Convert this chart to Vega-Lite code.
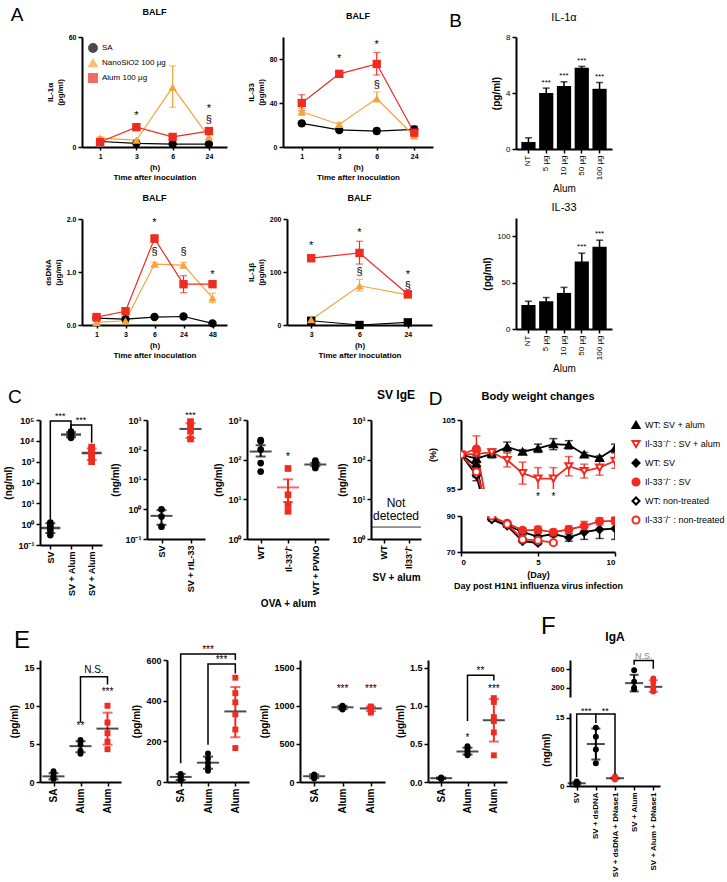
{
"$schema":"https://vega.github.io/schema/vega-lite/v6.json",
"padding":{"left":3,"top":5,"right":0,"bottom":0},
"config":{
 "font":"Liberation Sans",
 "view":{"stroke":null},
 "axis":{"domainColor":"black","domainWidth":2,"tickColor":"black","tickWidth":1.5,"tickSize":4,"labelColor":"black","labelFontWeight":"bold","titleColor":"black","titleFontWeight":"bold","grid":false,"labelFontSize":9,"titleFontSize":10,"labelPadding":2,"titlePadding":4},
 "title":{"fontSize":12,"fontWeight":"bold","color":"black","offset":4},
 "legend":{"labelColor":"black","titleColor":"black","labelFontSize":10},
 "text":{"color":"black"}
},
"datasets":{
 "a1":[{"t":1,"grp":"SA","m":3,"lo":2.3,"hi":3.7},{"t":3,"grp":"SA","m":2,"lo":1.5,"hi":2.5},{"t":6,"grp":"SA","m":1.6,"lo":1.1,"hi":2.1},{"t":24,"grp":"SA","m":1.6,"lo":1.1,"hi":2.1},
  {"t":1,"grp":"NanoSiO2 100 µg","m":4.8,"lo":4,"hi":5.6},{"t":3,"grp":"NanoSiO2 100 µg","m":3.7,"lo":3.2,"hi":4.2},{"t":6,"grp":"NanoSiO2 100 µg","m":32.7,"lo":21.7,"hi":44.2},{"t":24,"grp":"NanoSiO2 100 µg","m":5.5,"lo":4.2,"hi":6.8},
  {"t":1,"grp":"Alum 100 µg","m":2.7,"lo":1.8,"hi":3.6},{"t":3,"grp":"Alum 100 µg","m":10.8,"lo":10,"hi":11.6},{"t":6,"grp":"Alum 100 µg","m":5.5,"lo":4.8,"hi":6.2},{"t":24,"grp":"Alum 100 µg","m":8.7,"lo":7.8,"hi":9.6}],
 "a1t":[{"t":3,"y":17,"lab":"*"},{"t":24,"y":21,"lab":"*"},{"t":24,"y":14.5,"lab":"§"}],
 "a2":[{"t":1,"grp":"SA","m":21.5,"lo":19.5,"hi":23.5},{"t":3,"grp":"SA","m":15.5,"lo":13.5,"hi":17.5},{"t":6,"grp":"SA","m":14.5,"lo":12,"hi":17},{"t":24,"grp":"SA","m":16,"lo":13,"hi":19},
  {"t":1,"grp":"NanoSiO2 100 µg","m":32,"lo":29,"hi":35},{"t":3,"grp":"NanoSiO2 100 µg","m":20.5,"lo":19,"hi":22},{"t":6,"grp":"NanoSiO2 100 µg","m":44,"lo":41,"hi":50},{"t":24,"grp":"NanoSiO2 100 µg","m":10,"lo":8,"hi":12},
  {"t":1,"grp":"Alum 100 µg","m":40,"lo":33,"hi":47.5},{"t":3,"grp":"Alum 100 µg","m":66.5,"lo":64.5,"hi":68.5},{"t":6,"grp":"Alum 100 µg","m":75.5,"lo":65.5,"hi":86},{"t":24,"grp":"Alum 100 µg","m":13,"lo":11,"hi":15}],
 "a2t":[{"t":3,"y":80,"lab":"*"},{"t":6,"y":93,"lab":"*"},{"t":6,"y":56,"lab":"§"}],
 "a3":[{"t":1,"grp":"SA","m":0.13,"lo":0.11,"hi":0.15},{"t":3,"grp":"SA","m":0.11,"lo":0.09,"hi":0.13},{"t":6,"grp":"SA","m":0.15,"lo":0.13,"hi":0.17},{"t":24,"grp":"SA","m":0.16,"lo":0.14,"hi":0.18},{"t":48,"grp":"SA","m":0.03,"lo":0.01,"hi":0.05},
  {"t":1,"grp":"NanoSiO2 100 µg","m":0.05,"lo":0.03,"hi":0.07},{"t":3,"grp":"NanoSiO2 100 µg","m":0.08,"lo":0.06,"hi":0.1},{"t":6,"grp":"NanoSiO2 100 µg","m":1.15,"lo":1.12,"hi":1.18},{"t":24,"grp":"NanoSiO2 100 µg","m":1.13,"lo":1.08,"hi":1.18},{"t":48,"grp":"NanoSiO2 100 µg","m":0.51,"lo":0.42,"hi":0.6},
  {"t":1,"grp":"Alum 100 µg","m":0.15,"lo":0.13,"hi":0.17},{"t":3,"grp":"Alum 100 µg","m":0.26,"lo":0.23,"hi":0.29},{"t":6,"grp":"Alum 100 µg","m":1.63,"lo":1.56,"hi":1.7},{"t":24,"grp":"Alum 100 µg","m":0.77,"lo":0.61,"hi":0.93},{"t":48,"grp":"Alum 100 µg","m":0.77,"lo":0.74,"hi":0.8}],
 "a3t":[{"t":6,"y":1.92,"lab":"*"},{"t":6,"y":1.37,"lab":"§"},{"t":24,"y":1.37,"lab":"§"},{"t":48,"y":0.95,"lab":"*"}],
 "a4":[{"t":3,"grp":"SA","m":8,"lo":5,"hi":11},{"t":6,"grp":"SA","m":0,"lo":0,"hi":1},{"t":24,"grp":"SA","m":5,"lo":3,"hi":7},
  {"t":3,"grp":"NanoSiO2 100 µg","m":10,"lo":8,"hi":12},{"t":6,"grp":"NanoSiO2 100 µg","m":74,"lo":64,"hi":86},{"t":24,"grp":"NanoSiO2 100 µg","m":57,"lo":53,"hi":61},
  {"t":3,"grp":"Alum 100 µg","m":126,"lo":122,"hi":130},{"t":6,"grp":"Alum 100 µg","m":136,"lo":115,"hi":158},{"t":24,"grp":"Alum 100 µg","m":58,"lo":54,"hi":62}],
 "a4t":[{"t":3,"y":150,"lab":"*"},{"t":6,"y":173,"lab":"*"},{"t":6,"y":100,"lab":"§"},{"t":24,"y":74,"lab":"§"},{"t":24,"y":95,"lab":"*"}],
 "b1":[{"c":"NT","m":0.5,"lo":0.2,"hi":0.8},{"c":"5 µg","m":4.0,"lo":3.7,"hi":4.35},{"c":"10 µg","m":4.5,"lo":4.2,"hi":4.8},{"c":"50 µg","m":5.8,"lo":5.7,"hi":5.9},{"c":"100 µg","m":4.3,"lo":3.85,"hi":4.75}],
 "b1t":[{"c":"5 µg","y":4.45,"lab":"***"},{"c":"10 µg","y":4.9,"lab":"***"},{"c":"50 µg","y":6.0,"lab":"***"},{"c":"100 µg","y":4.85,"lab":"***"}],
 "b2":[{"c":"NT","m":26,"lo":22,"hi":30},{"c":"5 µg","m":30,"lo":27,"hi":34},{"c":"10 µg","m":39,"lo":33,"hi":45},{"c":"50 µg","m":73,"lo":64,"hi":82},{"c":"100 µg","m":89,"lo":82,"hi":96}],
 "b2t":[{"c":"50 µg","y":84,"lab":"***"},{"c":"100 µg","y":98,"lab":"***"}],
 "c1p":[{"g":"SV","v":1.2,"geno":"WT"},{"g":"SV","v":0.9,"geno":"WT"},{"g":"SV","v":0.7,"geno":"WT"},{"g":"SV","v":0.5,"geno":"WT"},{"g":"SV","v":0.3,"geno":"WT"},
  {"g":"SV + Alum","v":28000,"geno":"WT"},{"g":"SV + Alum","v":22000,"geno":"WT"},{"g":"SV + Alum","v":19000,"geno":"WT"},{"g":"SV + Alum","v":16000,"geno":"WT"},{"g":"SV + Alum","v":14000,"geno":"WT"},
  {"g":"SV + Alum\u200b","v":5000,"geno":"Il33⁻/⁻"},{"g":"SV + Alum\u200b","v":3600,"geno":"Il33⁻/⁻"},{"g":"SV + Alum\u200b","v":2500,"geno":"Il33⁻/⁻"},{"g":"SV + Alum\u200b","v":1600,"geno":"Il33⁻/⁻"},{"g":"SV + Alum\u200b","v":1000,"geno":"Il33⁻/⁻"}],
 "c1s":[{"g":"SV","m":0.65,"lo":0.38,"hi":1.1,"geno":"WT"},{"g":"SV + Alum","m":20000,"lo":15000,"hi":26000,"geno":"WT"},{"g":"SV + Alum\u200b","m":2600,"lo":1200,"hi":4300,"geno":"Il33⁻/⁻"}],
 "c1b":[{"bid":1,"o":1,"g":"SV","y":1.6},{"bid":1,"o":2,"g":"SV","y":90000},{"bid":1,"o":3,"g":"SV + Alum","y":90000},{"bid":1,"o":4,"g":"SV + Alum","y":35000},
  {"bid":2,"o":1,"g":"SV + Alum","y":35000},{"bid":2,"o":2,"g":"SV + Alum","y":57000},{"bid":2,"o":3,"g":"SV + Alum\u200b","y":57000},{"bid":2,"o":4,"g":"SV + Alum\u200b","y":8000}],
 "c1tb":[{"g":"SV","y":150000,"lab":"***"},{"g":"SV + Alum","y":100000,"lab":"***"}],
 "c2p":[{"g":"SV","v":1.0,"geno":"WT"},{"g":"SV","v":0.57,"geno":"WT"},{"g":"SV","v":0.26,"geno":"WT"},{"g":"SV + rIL-33","v":880,"geno":"Il33⁻/⁻"},{"g":"SV + rIL-33","v":600,"geno":"Il33⁻/⁻"},{"g":"SV + rIL-33","v":420,"geno":"Il33⁻/⁻"},{"g":"SV + rIL-33","v":230,"geno":"Il33⁻/⁻"}],
 "c2s":[{"g":"SV","m":0.6,"lo":0.3,"hi":0.93,"geno":"WT"},{"g":"SV + rIL-33","m":500,"lo":250,"hi":780,"geno":"Il33⁻/⁻"}],
 "c2t":[{"g":"SV + rIL-33","y":1500,"lab":"***"}],
 "c3p":[{"g":"WT","v":310,"geno":"WT"},{"g":"WT","v":290,"geno":"WT"},{"g":"WT","v":180,"geno":"WT"},{"g":"WT","v":82,"geno":"WT"},{"g":"WT","v":50,"geno":"WT"},
  {"g":"Il-33⁻/⁻","v":60,"geno":"Il33⁻/⁻"},{"g":"Il-33⁻/⁻","v":13,"geno":"Il33⁻/⁻"},{"g":"Il-33⁻/⁻","v":7.4,"geno":"Il33⁻/⁻"},{"g":"Il-33⁻/⁻","v":5,"geno":"Il33⁻/⁻"},
  {"g":"WT + PVNO","v":95,"geno":"WT"},{"g":"WT + PVNO","v":85,"geno":"WT"},{"g":"WT + PVNO","v":78,"geno":"WT"},{"g":"WT + PVNO","v":70,"geno":"WT"},{"g":"WT + PVNO","v":62,"geno":"WT"}],
 "c3s":[{"g":"WT","m":160,"lo":120,"hi":230,"geno":"WT"},{"g":"Il-33⁻/⁻","m":20,"lo":8.5,"hi":32,"geno":"Il33⁻/⁻"},{"g":"WT + PVNO","m":75,"lo":68,"hi":84,"geno":"WT"}],
 "c3t":[{"g":"Il-33⁻/⁻","y":120,"lab":"*"}],
 "c4x":[{"g":"WT","v":1},{"g":"Il33⁻/⁻","v":1}],
 "c4n":[{"v":8,"lab":"Not"},{"v":3.8,"lab":"detected"}],
 "c4r":[{"v":2}],
 "d":[
  {"grp":"WT: SV + alum","day":0,"m":100,"lo":99.8,"hi":100.2},{"grp":"WT: SV + alum","day":1,"m":99.4,"lo":98.8,"hi":100},{"grp":"WT: SV + alum","day":2,"m":100.1,"lo":99.5,"hi":100.7},{"grp":"WT: SV + alum","day":3,"m":101.1,"lo":100.4,"hi":101.8},{"grp":"WT: SV + alum","day":4,"m":100.4,"lo":100.1,"hi":100.7},{"grp":"WT: SV + alum","day":5,"m":100.9,"lo":100.3,"hi":101.5},{"grp":"WT: SV + alum","day":6,"m":101.5,"lo":100.7,"hi":102.3},{"grp":"WT: SV + alum","day":7,"m":101.4,"lo":100.8,"hi":102},{"grp":"WT: SV + alum","day":8,"m":100,"lo":99.7,"hi":100.3},{"grp":"WT: SV + alum","day":9,"m":99.5,"lo":99.2,"hi":99.8},{"grp":"WT: SV + alum","day":10,"m":100.9,"lo":100.3,"hi":101.5},
  {"grp":"Il-33⁻/⁻ : SV + alum","day":0,"m":100,"lo":99.7,"hi":100.3},{"grp":"Il-33⁻/⁻ : SV + alum","day":1,"m":100.1,"lo":99.6,"hi":100.6},{"grp":"Il-33⁻/⁻ : SV + alum","day":2,"m":100.3,"lo":99.8,"hi":100.8},{"grp":"Il-33⁻/⁻ : SV + alum","day":3,"m":99.2,"lo":98.2,"hi":100.2},{"grp":"Il-33⁻/⁻ : SV + alum","day":4,"m":97.3,"lo":95.7,"hi":98.9},{"grp":"Il-33⁻/⁻ : SV + alum","day":5,"m":96.5,"lo":94.9,"hi":98.1},{"grp":"Il-33⁻/⁻ : SV + alum","day":6,"m":96.5,"lo":94.9,"hi":98.1},{"grp":"Il-33⁻/⁻ : SV + alum","day":7,"m":98.3,"lo":96.9,"hi":99.7},{"grp":"Il-33⁻/⁻ : SV + alum","day":8,"m":97.6,"lo":96.6,"hi":98.6},{"grp":"Il-33⁻/⁻ : SV + alum","day":9,"m":98.1,"lo":97,"hi":99.2},{"grp":"Il-33⁻/⁻ : SV + alum","day":10,"m":99.1,"lo":98,"hi":100.2},
  {"grp":"WT: SV","day":0,"m":100,"lo":99.8,"hi":100.2},{"grp":"WT: SV","day":1,"m":98.3,"lo":96.8,"hi":99.8},{"grp":"WT: SV","day":2,"m":88.5,"lo":87.5,"hi":89.5},{"grp":"WT: SV","day":3,"m":85,"lo":84,"hi":86},{"grp":"WT: SV","day":4,"m":81,"lo":79.5,"hi":82.5},{"grp":"WT: SV","day":5,"m":78.5,"lo":76.5,"hi":80.5},{"grp":"WT: SV","day":6,"m":80,"lo":78.5,"hi":81.5},{"grp":"WT: SV","day":7,"m":78,"lo":76,"hi":80},{"grp":"WT: SV","day":8,"m":81,"lo":77,"hi":85},{"grp":"WT: SV","day":9,"m":82.5,"lo":77.5,"hi":87.5},{"grp":"WT: SV","day":10,"m":83,"lo":77,"hi":89},
  {"grp":"Il-33⁻/⁻ : SV","day":0,"m":100,"lo":99.7,"hi":100.3},{"grp":"Il-33⁻/⁻ : SV","day":1,"m":100.8,"lo":98.9,"hi":102.7},{"grp":"Il-33⁻/⁻ : SV","day":2,"m":89,"lo":88,"hi":90},{"grp":"Il-33⁻/⁻ : SV","day":3,"m":86,"lo":85,"hi":87},{"grp":"Il-33⁻/⁻ : SV","day":4,"m":82,"lo":80.5,"hi":83.5},{"grp":"Il-33⁻/⁻ : SV","day":5,"m":82.3,"lo":80.3,"hi":84.3},{"grp":"Il-33⁻/⁻ : SV","day":6,"m":81,"lo":79.5,"hi":82.5},{"grp":"Il-33⁻/⁻ : SV","day":7,"m":82.5,"lo":80.5,"hi":84.5},{"grp":"Il-33⁻/⁻ : SV","day":8,"m":84.5,"lo":82,"hi":87},{"grp":"Il-33⁻/⁻ : SV","day":9,"m":87,"lo":85,"hi":89},{"grp":"Il-33⁻/⁻ : SV","day":10,"m":87.3,"lo":85.3,"hi":89.3},
  {"grp":"WT: non-treated","day":0,"m":100,"lo":99.8,"hi":100.2},{"grp":"WT: non-treated","day":1,"m":97,"lo":96.2,"hi":97.8},{"grp":"WT: non-treated","day":2,"m":88,"lo":87.2,"hi":88.8},{"grp":"WT: non-treated","day":3,"m":84.5,"lo":83.7,"hi":85.3},{"grp":"WT: non-treated","day":4,"m":76,"lo":75.2,"hi":76.8},{"grp":"WT: non-treated","day":5,"m":75,"lo":74.2,"hi":75.8},
  {"grp":"Il-33⁻/⁻ : non-treated","day":0,"m":100,"lo":99.8,"hi":100.2},{"grp":"Il-33⁻/⁻ : non-treated","day":1,"m":97.5,"lo":96.7,"hi":98.3},{"grp":"Il-33⁻/⁻ : non-treated","day":2,"m":90,"lo":89.2,"hi":90.8},{"grp":"Il-33⁻/⁻ : non-treated","day":3,"m":85.5,"lo":84.7,"hi":86.3},{"grp":"Il-33⁻/⁻ : non-treated","day":4,"m":77,"lo":76.2,"hi":77.8},{"grp":"Il-33⁻/⁻ : non-treated","day":5,"m":76.5,"lo":75.7,"hi":77.3},{"grp":"Il-33⁻/⁻ : non-treated","day":6,"m":75.2,"lo":74.4,"hi":76}],
 "dt":[{"day":5,"y":94.6,"lab":"*"},{"day":6,"y":94.6,"lab":"*"}],
 "e1p":[{"g":"SA","v":1.4,"geno":"WT"},{"g":"SA","v":1.2,"geno":"WT"},{"g":"SA","v":0.8,"geno":"WT"},{"g":"SA","v":0.6,"geno":"WT"},{"g":"SA","v":0.4,"geno":"WT"},
  {"g":"Alum","v":5.5,"geno":"WT"},{"g":"Alum","v":5.3,"geno":"WT"},{"g":"Alum","v":4.9,"geno":"WT"},{"g":"Alum","v":4.1,"geno":"WT"},{"g":"Alum","v":3.7,"geno":"WT"},
  {"g":"Alum\u200b","v":10,"geno":"Il33⁻/⁻"},{"g":"Alum\u200b","v":7.8,"geno":"Il33⁻/⁻"},{"g":"Alum\u200b","v":6.4,"geno":"Il33⁻/⁻"},{"g":"Alum\u200b","v":5.3,"geno":"Il33⁻/⁻"},{"g":"Alum\u200b","v":4.3,"geno":"Il33⁻/⁻"}],
 "e1s":[{"g":"SA","m":0.74,"lo":0.35,"hi":1.15,"geno":"WT"},{"g":"Alum","m":4.7,"lo":3.9,"hi":5.35,"geno":"WT"},{"g":"Alum\u200b","m":7.0,"lo":4.9,"hi":9.1,"geno":"Il33⁻/⁻"}],
 "e1b":[{"bid":1,"o":1,"g":"Alum","y":7.8},{"bid":1,"o":2,"g":"Alum","y":13.8},{"bid":1,"o":3,"g":"Alum\u200b","y":13.8},{"bid":1,"o":4,"g":"Alum\u200b","y":12.8}],
 "e1t":[{"g":"Alum","y":7.3,"lab":"**"},{"g":"Alum\u200b","y":11.8,"lab":"***"}],
 "e1tb":[{"g":"Alum","y":14.7,"lab":"N.S."}],
 "e2p":[{"g":"SA","v":40,"geno":"WT"},{"g":"SA","v":32,"geno":"WT"},{"g":"SA","v":25,"geno":"WT"},{"g":"SA","v":15,"geno":"WT"},{"g":"SA","v":8,"geno":"WT"},
  {"g":"Alum","v":140,"geno":"WT"},{"g":"Alum","v":115,"geno":"WT"},{"g":"Alum","v":95,"geno":"WT"},{"g":"Alum","v":75,"geno":"WT"},{"g":"Alum","v":55,"geno":"WT"},
  {"g":"Alum\u200b","v":513,"geno":"Il33⁻/⁻"},{"g":"Alum\u200b","v":437,"geno":"Il33⁻/⁻"},{"g":"Alum\u200b","v":392,"geno":"Il33⁻/⁻"},{"g":"Alum\u200b","v":333,"geno":"Il33⁻/⁻"},{"g":"Alum\u200b","v":258,"geno":"Il33⁻/⁻"},{"g":"Alum\u200b","v":167,"geno":"Il33⁻/⁻"}],
 "e2s":[{"g":"SA","m":25,"lo":10,"hi":40,"geno":"WT"},{"g":"Alum","m":95,"lo":65,"hi":125,"geno":"WT"},{"g":"Alum\u200b","m":347,"lo":220,"hi":467,"geno":"Il33⁻/⁻"}],
 "e2b":[{"bid":1,"o":1,"g":"SA","y":92},{"bid":1,"o":2,"g":"SA","y":630},{"bid":1,"o":3,"g":"Alum\u200b","y":630},{"bid":1,"o":4,"g":"Alum\u200b","y":600},
  {"bid":2,"o":1,"g":"Alum","y":183},{"bid":2,"o":2,"g":"Alum","y":580},{"bid":2,"o":3,"g":"Alum\u200b","y":580},{"bid":2,"o":4,"g":"Alum\u200b","y":533}],
 "e2t":[{"g":"Alum","y":650,"lab":"***"}],
 "e2tb":[{"g":"Alum","y":600,"lab":"***"}],
 "e3p":[{"g":"SA","v":100,"geno":"WT"},{"g":"SA","v":80,"geno":"WT"},{"g":"SA","v":60,"geno":"WT"},{"g":"SA","v":45,"geno":"WT"},
  {"g":"Alum","v":1000,"geno":"WT"},{"g":"Alum","v":990,"geno":"WT"},{"g":"Alum","v":985,"geno":"WT"},{"g":"Alum","v":975,"geno":"WT"},{"g":"Alum","v":960,"geno":"WT"},{"g":"Alum","v":950,"geno":"WT"},
  {"g":"Alum\u200b","v":990,"geno":"Il33⁻/⁻"},{"g":"Alum\u200b","v":985,"geno":"Il33⁻/⁻"},{"g":"Alum\u200b","v":975,"geno":"Il33⁻/⁻"},{"g":"Alum\u200b","v":960,"geno":"Il33⁻/⁻"},{"g":"Alum\u200b","v":930,"geno":"Il33⁻/⁻"},{"g":"Alum\u200b","v":910,"geno":"Il33⁻/⁻"}],
 "e3s":[{"g":"SA","m":75,"lo":50,"hi":100,"geno":"WT"},{"g":"Alum","m":980,"lo":955,"hi":1000,"geno":"WT"},{"g":"Alum\u200b","m":965,"lo":930,"hi":990,"geno":"Il33⁻/⁻"}],
 "e3t":[{"g":"Alum","y":1220,"lab":"***"},{"g":"Alum\u200b","y":1220,"lab":"***"}],
 "e4p":[{"g":"SA","v":0.06,"geno":"WT"},{"g":"SA","v":0.05,"geno":"WT"},{"g":"SA","v":0.04,"geno":"WT"},
  {"g":"Alum","v":0.47,"geno":"WT"},{"g":"Alum","v":0.44,"geno":"WT"},{"g":"Alum","v":0.41,"geno":"WT"},{"g":"Alum","v":0.38,"geno":"WT"},{"g":"Alum","v":0.36,"geno":"WT"},{"g":"Alum","v":0.35,"geno":"WT"},
  {"g":"Alum\u200b","v":1.1,"geno":"Il33⁻/⁻"},{"g":"Alum\u200b","v":1.05,"geno":"Il33⁻/⁻"},{"g":"Alum\u200b","v":0.85,"geno":"Il33⁻/⁻"},{"g":"Alum\u200b","v":0.8,"geno":"Il33⁻/⁻"},{"g":"Alum\u200b","v":0.65,"geno":"Il33⁻/⁻"},{"g":"Alum\u200b","v":0.35,"geno":"Il33⁻/⁻"}],
 "e4s":[{"g":"SA","m":0.05,"lo":0.04,"hi":0.06,"geno":"WT"},{"g":"Alum","m":0.4,"lo":0.36,"hi":0.45,"geno":"WT"},{"g":"Alum\u200b","m":0.81,"lo":0.53,"hi":1.09,"geno":"Il33⁻/⁻"}],
 "e4b":[{"bid":1,"o":1,"g":"Alum","y":0.8},{"bid":1,"o":2,"g":"Alum","y":1.4},{"bid":1,"o":3,"g":"Alum\u200b","y":1.4},{"bid":1,"o":4,"g":"Alum\u200b","y":1.33}],
 "e4t":[{"g":"Alum","y":0.58,"lab":"*"},{"g":"Alum\u200b","y":1.22,"lab":"***"}],
 "e4tb":[{"g":"Alum","y":1.46,"lab":"**"}],
 "fpl":[{"g":"SV","v":1.0,"geno":"WT"},{"g":"SV","v":0.7,"geno":"WT"},{"g":"SV","v":0.5,"geno":"WT"},{"g":"SV","v":0.3,"geno":"WT"},
  {"g":"SV + dsDNA","v":12.8,"geno":"WT"},{"g":"SV + dsDNA","v":10.8,"geno":"WT"},{"g":"SV + dsDNA","v":8,"geno":"WT"},{"g":"SV + dsDNA","v":5,"geno":"WT"},
  {"g":"SV + dsDNA + DNase1","v":2.1,"geno":"Il33⁻/⁻"},{"g":"SV + dsDNA + DNase1","v":1.8,"geno":"Il33⁻/⁻"},{"g":"SV + dsDNA + DNase1","v":1.6,"geno":"Il33⁻/⁻"},{"g":"SV + dsDNA + DNase1","v":1.4,"geno":"Il33⁻/⁻"}],
 "fsl":[{"g":"SV","m":0.6,"lo":0.35,"hi":0.9,"geno":"WT"},{"g":"SV + dsDNA","m":9.2,"lo":5.8,"hi":12.6,"geno":"WT"},{"g":"SV + dsDNA + DNase1","m":1.7,"lo":1.5,"hi":1.9,"geno":"Il33⁻/⁻"}],
 "flb":[{"bid":1,"o":1,"g":"SV","y":2.0},{"bid":1,"o":2,"g":"SV","y":15.8},{"bid":1,"o":3,"g":"SV + dsDNA","y":15.8},{"bid":1,"o":4,"g":"SV + dsDNA","y":13.8},
  {"bid":2,"o":1,"g":"SV + dsDNA","y":15.8},{"bid":2,"o":2,"g":"SV + dsDNA + DNase1","y":15.8},{"bid":2,"o":3,"g":"SV + dsDNA + DNase1","y":2.6}],
 "fltb":[{"g":"SV","y":16.4,"lab":"***"},{"g":"SV + dsDNA","y":16.4,"lab":"**"}],
 "fpu":[{"g":"SV + Alum","v":580,"geno":"WT"},{"g":"SV + Alum","v":330,"geno":"WT"},{"g":"SV + Alum","v":200,"geno":"WT"},{"g":"SV + Alum","v":170,"geno":"WT"},
  {"g":"SV + Alum + DNase1","v":400,"geno":"Il33⁻/⁻"},{"g":"SV + Alum + DNase1","v":310,"geno":"Il33⁻/⁻"},{"g":"SV + Alum + DNase1","v":210,"geno":"Il33⁻/⁻"},{"g":"SV + Alum + DNase1","v":150,"geno":"Il33⁻/⁻"},{"g":"SV + Alum + DNase1","v":120,"geno":"Il33⁻/⁻"}],
 "fsu":[{"g":"SV + Alum","m":300,"lo":120,"hi":480,"geno":"WT"},{"g":"SV + Alum + DNase1","m":220,"lo":110,"hi":360,"geno":"Il33⁻/⁻"}],
 "fub":[{"bid":1,"o":1,"g":"SV + Alum","y":700},{"bid":1,"o":2,"g":"SV + Alum","y":790},{"bid":1,"o":3,"g":"SV + Alum + DNase1","y":790},{"bid":1,"o":4,"g":"SV + Alum + DNase1","y":610}],
 "futb":[{"g":"SV + Alum","y":880,"lab":"N.S."}]
},
"spacing":6,
"resolve":{"scale":{"color":"independent","shape":"independent","fill":"independent","stroke":"independent"},"legend":{"color":"independent","shape":"independent","fill":"independent","stroke":"independent"}},
"vconcat":[
{"spacing":14,
 "resolve":{"scale":{"color":"independent","shape":"independent","fill":"independent","stroke":"independent"},"legend":{"color":"independent","shape":"independent","fill":"independent","stroke":"independent"}},
 "vconcat":[
 {"hconcat":[
  {"title":{"text":"A","anchor":"start","fontSize":19,"fontWeight":"normal","offset":10,"dx":-27},"width":1,"height":1,"data":{"name":"c4r"},"mark":{"type":"point","opacity":0}},
  {"hconcat":[
  {"spacing":13,
   "resolve":{"scale":{"color":"independent","shape":"independent","fill":"independent"},"legend":{"color":"independent","shape":"independent","fill":"independent"}},
   "vconcat":[
    {"hconcat":[
      {"title":{"text":"BALF","fontSize":9,"offset":16},"width":145,"height":110,
       "encoding":{"x":{"field":"t","type":"ordinal","scale":{"type":"point","padding":0.5},"axis":{"labelAngle":0,"title":["(h)","Time after inoculation"],"labelFontSize":7,"titleFontSize":8,"tickSize":3}}},
       "layer":[
        {"data":{"name":"a1"},"mark":{"type":"errorbar","ticks":{"size":7},"thickness":1.2},"encoding":{"y":{"field":"lo","type":"quantitative","scale":{"domain":[0,60]},"axis":{"values":[0,20,40,60],"title":["IL-1α","(pg/ml)"],"labelFontSize":7,"titleFontSize":8}},"y2":{"field":"hi"},"color":{"field":"grp","type":"nominal","scale":{"domain":["SA","NanoSiO2 100 µg","Alum 100 µg"],"range":["black","#f6a33c","#ef2b22"]},"legend":{"orient":"top-left","title":null,"labelFontSize":8,"symbolSize":70,"rowPadding":0,"offset":6}}}},
        {"data":{"name":"a1"},"mark":{"type":"line","strokeWidth":1.2},"encoding":{"y":{"field":"m","type":"quantitative"},"color":{"field":"grp","type":"nominal"}}},
        {"data":{"name":"a1"},"mark":{"type":"point","filled":true,"size":70,"opacity":1},"encoding":{"y":{"field":"m","type":"quantitative"},"color":{"field":"grp","type":"nominal"},"shape":{"field":"grp","type":"nominal","scale":{"domain":["SA","NanoSiO2 100 µg","Alum 100 µg"],"range":["circle","triangle-up","square"]}}}},
        {"data":{"name":"a1t"},"mark":{"type":"text","fontSize":11,"color":"black"},"encoding":{"y":{"field":"y","type":"quantitative"},"text":{"field":"lab"}}}
       ]},
      {"title":{"text":"BALF","fontSize":9,"offset":16},"width":150,"height":110,
       "encoding":{"x":{"field":"t","type":"ordinal","scale":{"type":"point","padding":0.5},"axis":{"labelAngle":0,"title":["(h)","Time after inoculation"],"labelFontSize":7,"titleFontSize":8,"tickSize":3}}},
       "layer":[
        {"data":{"name":"a2"},"mark":{"type":"errorbar","ticks":{"size":7},"thickness":1.2},"encoding":{"y":{"field":"lo","type":"quantitative","scale":{"domain":[0,100]},"axis":{"values":[0,20,40,60,80,100],"title":["IL-33","(pg/ml)"],"labelFontSize":7,"titleFontSize":8}},"y2":{"field":"hi"},"color":{"field":"grp","type":"nominal","scale":{"domain":["SA","NanoSiO2 100 µg","Alum 100 µg"],"range":["black","#f6a33c","#ef2b22"]},"legend":null}}},
        {"data":{"name":"a2"},"mark":{"type":"line","strokeWidth":1.2},"encoding":{"y":{"field":"m","type":"quantitative"},"color":{"field":"grp","type":"nominal","legend":null}}},
        {"data":{"name":"a2"},"mark":{"type":"point","filled":true,"size":70,"opacity":1},"encoding":{"y":{"field":"m","type":"quantitative"},"color":{"field":"grp","type":"nominal","legend":null},"shape":{"field":"grp","type":"nominal","legend":null,"scale":{"domain":["SA","NanoSiO2 100 µg","Alum 100 µg"],"range":["circle","triangle-up","square"]}}}},
        {"data":{"name":"a2t"},"mark":{"type":"text","fontSize":11,"color":"black"},"encoding":{"y":{"field":"y","type":"quantitative"},"text":{"field":"lab"}}}
       ]}
     ],"spacing":20,
     "resolve":{"scale":{"color":"independent","shape":"independent","fill":"independent"},"legend":{"color":"independent","shape":"independent","fill":"independent"}}},
    {"hconcat":[
      {"title":{"text":"BALF","fontSize":9,"offset":12},"width":145,"height":106,
       "encoding":{"x":{"field":"t","type":"ordinal","scale":{"type":"point","padding":0.5},"axis":{"labelAngle":0,"title":["(h)","Time after inoculation"],"labelFontSize":7,"titleFontSize":8,"tickSize":3}}},
       "layer":[
        {"data":{"name":"a3"},"mark":{"type":"errorbar","ticks":{"size":7},"thickness":1.2},"encoding":{"y":{"field":"lo","type":"quantitative","scale":{"domain":[0,2]},"axis":{"values":[0,0.5,1,1.5,2],"format":".1f","title":["dsDNA","(µg/ml)"],"labelFontSize":7,"titleFontSize":8}},"y2":{"field":"hi"},"color":{"field":"grp","type":"nominal","scale":{"domain":["SA","NanoSiO2 100 µg","Alum 100 µg"],"range":["black","#f6a33c","#ef2b22"]},"legend":null}}},
        {"data":{"name":"a3"},"mark":{"type":"line","strokeWidth":1.2},"encoding":{"y":{"field":"m","type":"quantitative"},"color":{"field":"grp","type":"nominal","legend":null}}},
        {"data":{"name":"a3"},"mark":{"type":"point","filled":true,"size":70,"opacity":1},"encoding":{"y":{"field":"m","type":"quantitative"},"color":{"field":"grp","type":"nominal","legend":null},"shape":{"field":"grp","type":"nominal","legend":null,"scale":{"domain":["SA","NanoSiO2 100 µg","Alum 100 µg"],"range":["circle","triangle-up","square"]}}}},
        {"data":{"name":"a3t"},"mark":{"type":"text","fontSize":11,"color":"black"},"encoding":{"y":{"field":"y","type":"quantitative"},"text":{"field":"lab"}}}
       ]},
      {"title":{"text":"BALF","fontSize":9,"offset":12},"width":145,"height":106,
       "encoding":{"x":{"field":"t","type":"ordinal","scale":{"type":"point","padding":0.5},"axis":{"labelAngle":0,"title":["(h)","Time after inoculation"],"labelFontSize":7,"titleFontSize":8,"tickSize":3}}},
       "layer":[
        {"data":{"name":"a4"},"mark":{"type":"errorbar","ticks":{"size":7},"thickness":1.2},"encoding":{"y":{"field":"lo","type":"quantitative","scale":{"domain":[0,200]},"axis":{"values":[0,50,100,150,200],"title":["IL-1β","(pg/ml)"],"labelFontSize":7,"titleFontSize":8}},"y2":{"field":"hi"},"color":{"field":"grp","type":"nominal","scale":{"domain":["SA","NanoSiO2 100 µg","Alum 100 µg"],"range":["black","#f6a33c","#ef2b22"]},"legend":null}}},
        {"data":{"name":"a4"},"mark":{"type":"line","strokeWidth":1.2},"encoding":{"y":{"field":"m","type":"quantitative"},"color":{"field":"grp","type":"nominal","legend":null}}},
        {"data":{"name":"a4"},"mark":{"type":"point","filled":true,"size":70,"opacity":1},"encoding":{"y":{"field":"m","type":"quantitative"},"color":{"field":"grp","type":"nominal","legend":null},"shape":{"field":"grp","type":"nominal","legend":null,"scale":{"domain":["SA","NanoSiO2 100 µg","Alum 100 µg"],"range":["square","triangle-up","square"]}}}},
        {"data":{"name":"a4t"},"mark":{"type":"text","fontSize":11,"color":"black"},"encoding":{"y":{"field":"y","type":"quantitative"},"text":{"field":"lab"}}}
       ]}
     ],"spacing":20,
     "resolve":{"scale":{"color":"independent","shape":"independent","fill":"independent"},"legend":{"color":"independent","shape":"independent","fill":"independent"}}}
   ]},
  {"title":{"text":"B","orient":"left","anchor":"end","angle":0,"align":"right","baseline":"top","fontSize":19,"fontWeight":"normal","offset":8},
   "spacing":8,
   "vconcat":[
    {"title":{"text":"IL-1α","fontSize":11,"fontWeight":"normal","offset":10},"width":96,"height":112,
     "encoding":{"x":{"field":"c","type":"nominal","sort":null,"scale":{"domain":["NT","5 µg","10 µg","50 µg","100 µg"],"paddingInner":0.2,"paddingOuter":0.3},"axis":{"labelAngle":-90,"title":"Alum","titleFontWeight":"normal","titleFontSize":10,"labelFontSize":8,"labelFontWeight":"normal"}}},
     "layer":[
      {"data":{"name":"b1"},"mark":{"type":"bar","color":"black"},"encoding":{"y":{"field":"m","type":"quantitative","scale":{"domain":[0,8]},"axis":{"values":[0,2,4,6,8],"title":"(pg/ml)","labelFontSize":8,"labelFontWeight":"normal"}}}},
      {"data":{"name":"b1"},"mark":{"type":"errorbar","color":"black","ticks":{"size":7},"thickness":1.5},"encoding":{"y":{"field":"lo","type":"quantitative","title":"(pg/ml)"},"y2":{"field":"hi"}}},
      {"data":{"name":"b1t"},"mark":{"type":"text","fontSize":8,"baseline":"bottom","color":"black"},"encoding":{"y":{"field":"y","type":"quantitative","title":"(pg/ml)"},"text":{"field":"lab"}}}
     ]},
    {"title":{"text":"IL-33","fontSize":11,"fontWeight":"normal","offset":5},"width":96,"height":111,
     "encoding":{"x":{"field":"c","type":"nominal","sort":null,"scale":{"domain":["NT","5 µg","10 µg","50 µg","100 µg"],"paddingInner":0.2,"paddingOuter":0.3},"axis":{"labelAngle":-90,"title":"Alum","titleFontWeight":"normal","titleFontSize":10,"labelFontSize":8,"labelFontWeight":"normal"}}},
     "layer":[
      {"data":{"name":"b2"},"mark":{"type":"bar","color":"black"},"encoding":{"y":{"field":"m","type":"quantitative","scale":{"domain":[0,120]},"axis":{"values":[0,50,100],"title":"(pg/ml)","labelFontSize":8,"labelFontWeight":"normal"}}}},
      {"data":{"name":"b2"},"mark":{"type":"errorbar","color":"black","ticks":{"size":7},"thickness":1.5},"encoding":{"y":{"field":"lo","type":"quantitative","title":"(pg/ml)"},"y2":{"field":"hi"}}},
      {"data":{"name":"b2t"},"mark":{"type":"text","fontSize":8,"baseline":"bottom","color":"black"},"encoding":{"y":{"field":"y","type":"quantitative","title":"(pg/ml)"},"text":{"field":"lab"}}}
     ]}
   ]}
  ],"spacing":16,
  "resolve":{"scale":{"color":"independent","shape":"independent","fill":"independent"},"legend":{"color":"independent","shape":"independent","fill":"independent"}}}
 ],"spacing":0,
 "resolve":{"scale":{"color":"independent","shape":"independent","fill":"independent"},"legend":{"color":"independent","shape":"independent","fill":"independent"}}},
 {"hconcat":[
  {"title":{"text":"C","anchor":"start","fontSize":19,"fontWeight":"normal","offset":-18,"dx":4},
   "spacing":8,
   "resolve":{"scale":{"color":"independent","shape":"independent","fill":"independent"},"legend":{"color":"independent","shape":"independent","fill":"independent"}},
   "hconcat":[
    {"width":62,"height":125,
     "encoding":{"x":{"field":"g","type":"nominal","scale":{"type":"point","padding":0.5,"domain":["SV","SV + Alum","SV + Alum\u200b"]},"axis":{"labelAngle":-90,"title":null,"labelFontSize":9}}},
     "layer":[
      {"data":{"name":"c1s"},"mark":{"type":"errorbar","ticks":{"size":10},"thickness":2},"encoding":{"y":{"field":"lo","type":"quantitative","scale":{"type":"log","domain":[0.1,100000]},"axis":{"values":[0.1,1,10,100,1000,10000,100000],"labelExpr":"'10' + ['⁻¹','⁰','¹','²','³','⁴','⁵'][round(log(datum.value)/LN10)+1]","title":"(ng/ml)"}},"y2":{"field":"hi"},"color":{"field":"geno","type":"nominal","scale":{"domain":["WT","Il33⁻/⁻"],"range":["black","#ef2b22"]},"legend":null}}},
      {"data":{"name":"c1s"},"mark":{"type":"tick","color":"black","size":20,"thickness":2.5},"encoding":{"y":{"field":"m","type":"quantitative"}}},
      {"data":{"name":"c1p"},"mark":{"type":"point","filled":true,"size":45,"opacity":1},"encoding":{"y":{"field":"v","type":"quantitative"},"color":{"field":"geno","type":"nominal","legend":{"title":"IgA","orient":"top","direction":"vertical","titleOrient":"left","titleFontSize":15,"titleFontWeight":"normal","labelFontSize":10,"symbolSize":45,"rowPadding":1,"titlePadding":6,"offset":8}},"shape":{"field":"geno","type":"nominal","scale":{"domain":["WT","Il33⁻/⁻"],"range":["circle","square"]}}}},
      {"data":{"name":"c1b"},"mark":{"type":"line","color":"black","stroke":"black","strokeWidth":1.5},"encoding":{"y":{"field":"y","type":"quantitative"},"detail":{"field":"bid"},"order":{"field":"o"}}},
      {"data":{"name":"c1tb"},"mark":{"type":"text","fontSize":9,"dx":10,"color":"black"},"encoding":{"y":{"field":"y","type":"quantitative"},"text":{"field":"lab"}}}
     ]},
    {"width":58,"height":119,
     "encoding":{"x":{"field":"g","type":"nominal","scale":{"type":"point","padding":0.5,"domain":["SV","SV + rIL-33"]},"axis":{"labelAngle":-90,"title":null,"labelFontSize":9}}},
     "layer":[
      {"data":{"name":"c2s"},"mark":{"type":"errorbar","ticks":{"size":10},"thickness":2},"encoding":{"y":{"field":"lo","type":"quantitative","scale":{"type":"log","domain":[0.1,1000]},"axis":{"values":[0.1,1,10,100,1000],"labelExpr":"'10' + ['⁻¹','⁰','¹','²','³','⁴','⁵'][round(log(datum.value)/LN10)+1]","title":"(ng/ml)"}},"y2":{"field":"hi"},"color":{"field":"geno","type":"nominal","scale":{"domain":["WT","Il33⁻/⁻"],"range":["black","#ef2b22"]},"legend":null}}},
      {"data":{"name":"c2s"},"mark":{"type":"tick","color":"black","size":22,"thickness":2},"encoding":{"y":{"field":"m","type":"quantitative"}}},
      {"data":{"name":"c2p"},"mark":{"type":"point","filled":true,"size":45,"opacity":1},"encoding":{"y":{"field":"v","type":"quantitative"},"color":{"field":"geno","type":"nominal","legend":{"title":"IgA","orient":"top","direction":"vertical","titleOrient":"left","titleFontSize":15,"titleFontWeight":"normal","labelFontSize":10,"symbolSize":45,"rowPadding":1,"titlePadding":6,"offset":8}},"shape":{"field":"geno","type":"nominal","scale":{"domain":["WT","Il33⁻/⁻"],"range":["circle","square"]}}}},
      {"data":{"name":"c2t"},"mark":{"type":"text","fontSize":9,"color":"black"},"encoding":{"y":{"field":"y","type":"quantitative"},"text":{"field":"lab"}}}
     ]},
    {"width":82,"height":119,
     "encoding":{"x":{"field":"g","type":"nominal","scale":{"type":"point","padding":0.5,"domain":["WT","Il-33⁻/⁻","WT + PVNO"]},"axis":{"labelAngle":-90,"title":"OVA + alum","labelFontSize":9}}},
     "layer":[
      {"data":{"name":"c3s"},"mark":{"type":"errorbar","ticks":{"size":10},"thickness":2},"encoding":{"y":{"field":"lo","type":"quantitative","scale":{"type":"log","domain":[1,1000]},"axis":{"values":[1,10,100,1000],"labelExpr":"'10' + ['⁻¹','⁰','¹','²','³','⁴','⁵'][round(log(datum.value)/LN10)+1]","title":"(ng/ml)"}},"y2":{"field":"hi"},"color":{"field":"geno","type":"nominal","scale":{"domain":["WT","Il33⁻/⁻"],"range":["black","#ef2b22"]},"legend":null}}},
      {"data":{"name":"c3s"},"mark":{"type":"tick","size":22,"thickness":2},"encoding":{"y":{"field":"m","type":"quantitative"},"color":{"field":"geno","type":"nominal","legend":null}}},
      {"data":{"name":"c3p"},"mark":{"type":"point","filled":true,"size":45,"opacity":1},"encoding":{"y":{"field":"v","type":"quantitative"},"color":{"field":"geno","type":"nominal","legend":{"title":"OVA IgE","orient":"top","direction":"vertical","titleOrient":"left","titleFontSize":15,"titleFontWeight":"normal","labelFontSize":10,"symbolSize":45,"rowPadding":1,"titlePadding":6,"offset":8}},"shape":{"field":"geno","type":"nominal","scale":{"domain":["WT","Il33⁻/⁻"],"range":["circle","square"]}}}},
      {"data":{"name":"c3t"},"mark":{"type":"text","fontSize":11,"color":"black"},"encoding":{"y":{"field":"y","type":"quantitative"},"text":{"field":"lab"}}}
     ]},
    {"title":{"text":"SV IgE","fontSize":12,"offset":14},"width":50,"height":119,
     "layer":[
      {"data":{"name":"c4x"},"mark":{"type":"point","opacity":0},"encoding":{"x":{"field":"g","type":"nominal","scale":{"type":"point","padding":0.5,"domain":["WT","Il33⁻/⁻"]},"axis":{"labelAngle":-90,"title":"SV + alum","labelFontSize":9}},"y":{"field":"v","type":"quantitative","scale":{"type":"log","domain":[1,1000]},"axis":{"values":[1,10,100,1000],"labelExpr":"'10' + ['⁻¹','⁰','¹','²','³','⁴','⁵'][round(log(datum.value)/LN10)+1]","title":"(ng/ml)"}}}},
      {"data":{"name":"c4n"},"mark":{"type":"text","fontSize":12,"color":"black"},"encoding":{"y":{"field":"v","type":"quantitative"},"text":{"field":"lab"}}},
      {"data":{"name":"c4r"},"mark":{"type":"rule","color":"black","strokeWidth":0.8},"encoding":{"y":{"field":"v","type":"quantitative"}}}
     ]}
   ]},
  {"title":{"text":"D","anchor":"start","fontSize":19,"fontWeight":"normal","offset":-18},
   "spacing":10,
   "vconcat":[
    {"title":{"text":"Body weight changes","fontSize":11,"offset":27,"dy":13},"width":154,"height":69,
     "encoding":{"x":{"field":"day","type":"quantitative","scale":{"domain":[0,10]},"axis":null}},
     "layer":[
      {"data":{"name":"d"},"transform":[{"filter":"indexof(datum.grp,'WT')==0"}],"mark":{"type":"errorbar","clip":true,"color":"black","ticks":{"size":8},"thickness":1.5},"encoding":{"y":{"field":"lo","type":"quantitative","scale":{"domain":[95,105]},"axis":{"values":[95,100,105],"title":"(%)","labelFontSize":8,"titleFontSize":9}},"y2":{"field":"hi"}}},
      {"data":{"name":"d"},"transform":[{"filter":"indexof(datum.grp,'Il')==0"}],"mark":{"type":"errorbar","clip":true,"color":"#ef2b22","ticks":{"size":8},"thickness":1.5},"encoding":{"y":{"field":"lo","type":"quantitative","title":"(%)"},"y2":{"field":"hi"}}},
      {"data":{"name":"d"},"mark":{"type":"line","clip":true,"strokeWidth":1.8},"encoding":{"y":{"field":"m","type":"quantitative","title":"(%)"},"stroke":{"field":"grp","type":"nominal","scale":{"domain":["WT: SV + alum","Il-33⁻/⁻ : SV + alum","WT: SV","Il-33⁻/⁻ : SV","WT: non-treated","Il-33⁻/⁻ : non-treated"],"range":["black","#ef2b22","black","#ef2b22","black","#ef2b22"]},"legend":{"orient":"right","title":null,"labelFontSize":9,"symbolSize":50,"symbolStrokeWidth":2,"rowPadding":3,"offset":8}}}},
      {"data":{"name":"d"},"mark":{"type":"point","clip":true,"size":50,"strokeWidth":2,"opacity":1},"encoding":{"y":{"field":"m","type":"quantitative","title":"(%)"},"stroke":{"field":"grp","type":"nominal"},"fill":{"field":"grp","type":"nominal","scale":{"domain":["WT: SV + alum","Il-33⁻/⁻ : SV + alum","WT: SV","Il-33⁻/⁻ : SV","WT: non-treated","Il-33⁻/⁻ : non-treated"],"range":["black","white","black","#ef2b22","white","white"]}},"shape":{"field":"grp","type":"nominal","scale":{"domain":["WT: SV + alum","Il-33⁻/⁻ : SV + alum","WT: SV","Il-33⁻/⁻ : SV","WT: non-treated","Il-33⁻/⁻ : non-treated"],"range":["triangle-up","triangle-down","diamond","circle","diamond","circle"]}}}},
      {"data":{"name":"dt"},"mark":{"type":"text","fontSize":10,"baseline":"top","color":"black"},"encoding":{"y":{"field":"y","type":"quantitative","title":"(%)"},"text":{"field":"lab"}}}
     ]},
    {"width":154,"height":36,
     "encoding":{"x":{"field":"day","type":"quantitative","scale":{"domain":[0,10]},"axis":{"values":[0,5,10],"title":["(Day)","Day post H1N1 influenza virus infection"],"labelFontSize":8,"titleFontSize":9}}},
     "layer":[
      {"data":{"name":"d"},"transform":[{"filter":"indexof(datum.grp,'WT')==0"}],"mark":{"type":"errorbar","clip":true,"color":"black","ticks":{"size":8},"thickness":1.5},"encoding":{"y":{"field":"lo","type":"quantitative","scale":{"domain":[70,90]},"axis":{"values":[70,75,80,85,90],"title":null,"labelFontSize":8}},"y2":{"field":"hi"}}},
      {"data":{"name":"d"},"transform":[{"filter":"indexof(datum.grp,'Il')==0"}],"mark":{"type":"errorbar","clip":true,"color":"#ef2b22","ticks":{"size":8},"thickness":1.5},"encoding":{"y":{"field":"lo","type":"quantitative"},"y2":{"field":"hi"}}},
      {"data":{"name":"d"},"mark":{"type":"line","clip":true,"strokeWidth":1.8},"encoding":{"y":{"field":"m","type":"quantitative"},"stroke":{"field":"grp","type":"nominal"}}},
      {"data":{"name":"d"},"mark":{"type":"point","clip":true,"size":50,"strokeWidth":2,"opacity":1},"encoding":{"y":{"field":"m","type":"quantitative"},"stroke":{"field":"grp","type":"nominal"},"fill":{"field":"grp","type":"nominal"},"shape":{"field":"grp","type":"nominal"}}}
     ]}
   ]}
 ],"spacing":6,
 "resolve":{"scale":{"color":"independent","shape":"independent","fill":"independent","stroke":"independent"},"legend":{"color":"independent","shape":"independent","fill":"independent","stroke":"independent"}}}
 ]},
 {"hconcat":[
  {"title":{"text":"E","anchor":"start","fontSize":24,"fontWeight":"normal","offset":-8,"dx":4},
   "spacing":10,
   "resolve":{"scale":{"color":"independent","shape":"independent","fill":"independent"},"legend":{"color":"independent","shape":"independent","fill":"independent"}},
   "hconcat":[
    {"width":81,"height":122,
     "encoding":{"x":{"field":"g","type":"nominal","scale":{"type":"point","padding":0.5,"domain":["SA","Alum","Alum\u200b"]},"axis":{"labelAngle":-90,"title":null,"labelFontSize":10}}},
     "layer":[
      {"data":{"name":"e1s"},"mark":{"type":"errorbar","ticks":{"size":10},"thickness":2},"encoding":{"y":{"field":"lo","type":"quantitative","scale":{"domain":[0,15]},"axis":{"values":[0,5,10,15],"title":"(pg/ml)"}},"y2":{"field":"hi"},"color":{"field":"geno","type":"nominal","scale":{"domain":["WT","Il33⁻/⁻"],"range":["black","#ef2b22"]},"legend":null}}},
      {"data":{"name":"e1s"},"mark":{"type":"tick","color":"black","size":22,"thickness":2},"encoding":{"y":{"field":"m","type":"quantitative"}}},
      {"data":{"name":"e1p"},"mark":{"type":"point","filled":true,"size":35,"opacity":1},"encoding":{"y":{"field":"v","type":"quantitative"},"color":{"field":"geno","type":"nominal","legend":{"title":"IL-1α","orient":"top","direction":"vertical","titleOrient":"left","titleFontSize":15,"titleFontWeight":"normal","labelFontSize":10,"symbolSize":45,"rowPadding":1,"titlePadding":6,"offset":8}},"shape":{"field":"geno","type":"nominal","scale":{"domain":["WT","Il33⁻/⁻"],"range":["circle","square"]}}}},
      {"data":{"name":"e1b"},"mark":{"type":"line","color":"black","stroke":"black","strokeWidth":1.5},"encoding":{"y":{"field":"y","type":"quantitative"},"detail":{"field":"bid"},"order":{"field":"o"}}},
      {"data":{"name":"e1t"},"mark":{"type":"text","fontSize":10,"color":"black"},"encoding":{"y":{"field":"y","type":"quantitative"},"text":{"field":"lab"}}},
      {"data":{"name":"e1tb"},"mark":{"type":"text","fontSize":10,"dx":13.5,"color":"black"},"encoding":{"y":{"field":"y","type":"quantitative"},"text":{"field":"lab"}}}
     ]},
    {"width":82,"height":122,
     "encoding":{"x":{"field":"g","type":"nominal","scale":{"type":"point","padding":0.5,"domain":["SA","Alum","Alum\u200b"]},"axis":{"labelAngle":-90,"title":null,"labelFontSize":10}}},
     "layer":[
      {"data":{"name":"e2s"},"mark":{"type":"errorbar","ticks":{"size":10},"thickness":2},"encoding":{"y":{"field":"lo","type":"quantitative","scale":{"domain":[0,600]},"axis":{"values":[0,200,400,600],"title":"(pg/ml)"}},"y2":{"field":"hi"},"color":{"field":"geno","type":"nominal","scale":{"domain":["WT","Il33⁻/⁻"],"range":["black","#ef2b22"]},"legend":null}}},
      {"data":{"name":"e2s"},"mark":{"type":"tick","color":"black","size":22,"thickness":2},"encoding":{"y":{"field":"m","type":"quantitative"}}},
      {"data":{"name":"e2p"},"mark":{"type":"point","filled":true,"size":35,"opacity":1},"encoding":{"y":{"field":"v","type":"quantitative"},"color":{"field":"geno","type":"nominal","legend":{"title":"IL-1β","orient":"top","direction":"vertical","titleOrient":"left","titleFontSize":15,"titleFontWeight":"normal","labelFontSize":10,"symbolSize":45,"rowPadding":1,"titlePadding":6,"offset":8}},"shape":{"field":"geno","type":"nominal","scale":{"domain":["WT","Il33⁻/⁻"],"range":["circle","square"]}}}},
      {"data":{"name":"e2b"},"mark":{"type":"line","color":"black","stroke":"black","strokeWidth":1.5},"encoding":{"y":{"field":"y","type":"quantitative"},"detail":{"field":"bid"},"order":{"field":"o"}}},
      {"data":{"name":"e2t"},"mark":{"type":"text","fontSize":10,"color":"black"},"encoding":{"y":{"field":"y","type":"quantitative"},"text":{"field":"lab"}}},
      {"data":{"name":"e2tb"},"mark":{"type":"text","fontSize":10,"dx":13.5,"color":"black"},"encoding":{"y":{"field":"y","type":"quantitative"},"text":{"field":"lab"}}}
     ]},
    {"width":85,"height":122,
     "encoding":{"x":{"field":"g","type":"nominal","scale":{"type":"point","padding":0.5,"domain":["SA","Alum","Alum\u200b"]},"axis":{"labelAngle":-90,"title":null,"labelFontSize":10}}},
     "layer":[
      {"data":{"name":"e3s"},"mark":{"type":"errorbar","ticks":{"size":10},"thickness":2},"encoding":{"y":{"field":"lo","type":"quantitative","scale":{"domain":[0,1500]},"axis":{"values":[0,500,1000,1500],"format":"d","title":"(pg/ml)"}},"y2":{"field":"hi"},"color":{"field":"geno","type":"nominal","scale":{"domain":["WT","Il33⁻/⁻"],"range":["black","#ef2b22"]},"legend":null}}},
      {"data":{"name":"e3s"},"mark":{"type":"tick","color":"black","size":22,"thickness":2},"encoding":{"y":{"field":"m","type":"quantitative"}}},
      {"data":{"name":"e3p"},"mark":{"type":"point","filled":true,"size":35,"opacity":1},"encoding":{"y":{"field":"v","type":"quantitative"},"color":{"field":"geno","type":"nominal","legend":{"title":"IL-6","orient":"top","direction":"vertical","titleOrient":"left","titleFontSize":15,"titleFontWeight":"normal","labelFontSize":10,"symbolSize":45,"rowPadding":1,"titlePadding":6,"offset":8}},"shape":{"field":"geno","type":"nominal","scale":{"domain":["WT","Il33⁻/⁻"],"range":["circle","square"]}}}},
      {"data":{"name":"e3t"},"mark":{"type":"text","fontSize":10,"color":"black"},"encoding":{"y":{"field":"y","type":"quantitative"},"text":{"field":"lab"}}}
     ]},
    {"width":79,"height":122,
     "encoding":{"x":{"field":"g","type":"nominal","scale":{"type":"point","padding":0.5,"domain":["SA","Alum","Alum\u200b"]},"axis":{"labelAngle":-90,"title":null,"labelFontSize":10}}},
     "layer":[
      {"data":{"name":"e4s"},"mark":{"type":"errorbar","ticks":{"size":10},"thickness":2},"encoding":{"y":{"field":"lo","type":"quantitative","scale":{"domain":[0,1.5]},"axis":{"values":[0,0.5,1,1.5],"format":".1f","title":"(µg/ml)"}},"y2":{"field":"hi"},"color":{"field":"geno","type":"nominal","scale":{"domain":["WT","Il33⁻/⁻"],"range":["black","#ef2b22"]},"legend":null}}},
      {"data":{"name":"e4s"},"mark":{"type":"tick","color":"black","size":22,"thickness":2},"encoding":{"y":{"field":"m","type":"quantitative"}}},
      {"data":{"name":"e4p"},"mark":{"type":"point","filled":true,"size":35,"opacity":1},"encoding":{"y":{"field":"v","type":"quantitative"},"color":{"field":"geno","type":"nominal","legend":{"title":"dsDNA","orient":"top","direction":"vertical","titleOrient":"left","titleFontSize":15,"titleFontWeight":"normal","labelFontSize":10,"symbolSize":45,"rowPadding":1,"titlePadding":6,"offset":8}},"shape":{"field":"geno","type":"nominal","scale":{"domain":["WT","Il33⁻/⁻"],"range":["circle","square"]}}}},
      {"data":{"name":"e4b"},"mark":{"type":"line","color":"black","stroke":"black","strokeWidth":1.5},"encoding":{"y":{"field":"y","type":"quantitative"},"detail":{"field":"bid"},"order":{"field":"o"}}},
      {"data":{"name":"e4t"},"mark":{"type":"text","fontSize":10,"color":"black"},"encoding":{"y":{"field":"y","type":"quantitative"},"text":{"field":"lab"}}},
      {"data":{"name":"e4tb"},"mark":{"type":"text","fontSize":10,"dx":13,"color":"black"},"encoding":{"y":{"field":"y","type":"quantitative"},"text":{"field":"lab"}}}
     ]}
   ]},
  {"title":{"text":"F","anchor":"start","fontSize":24,"fontWeight":"normal","offset":-8},
   "spacing":10,
   "resolve":{"scale":{"color":"independent","shape":"independent","fill":"independent"},"legend":{"color":"independent","shape":"independent","fill":"independent"}},
   "vconcat":[
    {"title":{"text":"IgA","fontSize":12,"offset":10,"dy":2},"width":90,"height":37,
     "encoding":{"x":{"field":"g","type":"nominal","scale":{"type":"point","padding":0.35,"domain":["SV","SV + dsDNA","SV + dsDNA + DNase1","SV + Alum","SV + Alum + DNase1"]},"axis":null}},
     "layer":[
      {"data":{"name":"fsu"},"mark":{"type":"errorbar","ticks":{"size":9},"thickness":2},"encoding":{"y":{"field":"lo","type":"quantitative","scale":{"domain":[30,730]},"axis":{"values":[200,400,600],"title":null,"labelFontSize":8}},"y2":{"field":"hi"},"color":{"field":"geno","type":"nominal","scale":{"domain":["WT","Il33⁻/⁻"],"range":["black","#ef2b22"]},"legend":null}}},
      {"data":{"name":"fsu"},"mark":{"type":"tick","color":"black","size":18,"thickness":2},"encoding":{"y":{"field":"m","type":"quantitative"}}},
      {"data":{"name":"fpu"},"mark":{"type":"point","filled":true,"size":35,"opacity":1},"encoding":{"y":{"field":"v","type":"quantitative"},"color":{"field":"geno","type":"nominal","legend":null}}},
      {"data":{"name":"fub"},"mark":{"type":"line","color":"black","stroke":"black","strokeWidth":1.5},"encoding":{"y":{"field":"y","type":"quantitative"},"detail":{"field":"bid"},"order":{"field":"o"}}},
      {"data":{"name":"futb"},"mark":{"type":"text","fontSize":9,"dx":9.5,"color":"#888888"},"encoding":{"y":{"field":"y","type":"quantitative"},"text":{"field":"lab"}}}
     ]},
    {"width":90,"height":73,
     "encoding":{"x":{"field":"g","type":"nominal","scale":{"type":"point","padding":0.35,"domain":["SV","SV + dsDNA","SV + dsDNA + DNase1","SV + Alum","SV + Alum + DNase1"]},"axis":{"labelAngle":-90,"title":null,"labelFontSize":8}}},
     "layer":[
      {"data":{"name":"fsl"},"mark":{"type":"errorbar","ticks":{"size":9},"thickness":2},"encoding":{"y":{"field":"lo","type":"quantitative","scale":{"domain":[0,15]},"axis":{"values":[0,5,10,15],"title":"(ng/ml)","labelFontSize":8}},"y2":{"field":"hi"},"color":{"field":"geno","type":"nominal","scale":{"domain":["WT","Il33⁻/⁻"],"range":["black","#ef2b22"]},"legend":null}}},
      {"data":{"name":"fsl"},"mark":{"type":"tick","color":"black","size":18,"thickness":2},"encoding":{"y":{"field":"m","type":"quantitative"}}},
      {"data":{"name":"fpl"},"mark":{"type":"point","filled":true,"size":35,"opacity":1},"encoding":{"y":{"field":"v","type":"quantitative"},"color":{"field":"geno","type":"nominal","legend":null}}},
      {"data":{"name":"flb"},"mark":{"type":"line","color":"black","stroke":"black","strokeWidth":1.5},"encoding":{"y":{"field":"y","type":"quantitative"},"detail":{"field":"bid"},"order":{"field":"o"}}},
      {"data":{"name":"fltb"},"mark":{"type":"text","fontSize":9,"dx":9.5,"color":"black"},"encoding":{"y":{"field":"y","type":"quantitative"},"text":{"field":"lab"}}}
     ]}
   ]}
 ],"spacing":34,
 "resolve":{"scale":{"color":"independent","shape":"independent","fill":"independent"},"legend":{"color":"independent","shape":"independent","fill":"independent"}}}
]
}
